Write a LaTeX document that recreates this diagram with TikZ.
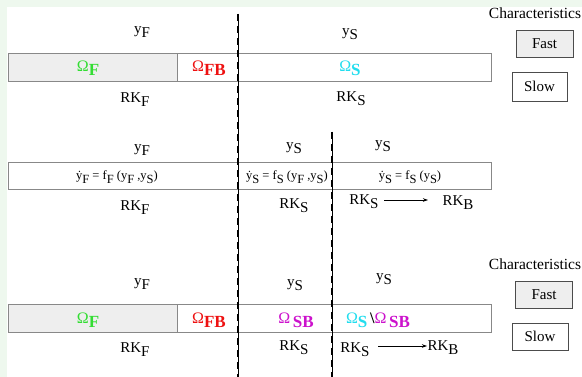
\documentclass[tikz,border=0pt]{standalone}
\usepackage{fontspec}
\setmainfont{Liberation Serif}
\usetikzlibrary{arrows.meta}
\definecolor{bggreen}{HTML}{EEF8EE}
\definecolor{omgreen}{HTML}{33DD33}
\definecolor{omred}{HTML}{EE1111}
\definecolor{omcyan}{HTML}{22DDEE}
\definecolor{ommag}{HTML}{CC11CC}
\definecolor{barfill}{HTML}{EEEEEE}
\definecolor{barline}{HTML}{888888}
\newcommand\lo[1]{\raisebox{-0.6ex}{#1}}
\newcommand\bsub[1]{\raisebox{-0.5ex}{\textbf{\fontsize{17}{19}\selectfont #1}}}
\begin{document}
\begin{tikzpicture}[x=1pt,y=-1pt,
  txt/.style={font=\fontsize{15}{17}\selectfont, inner sep=0pt},
  eqn/.style={font=\fontsize{12.5}{14}\selectfont, inner sep=0pt},
  om/.style={font=\fontsize{16}{18}\selectfont, inner sep=0pt},
  chars/.style={font=\fontsize{15.5}{17}\selectfont, inner sep=0pt},
  barbox/.style={draw=barline, line width=1pt},
  keybox/.style={draw=black!70, line width=0.8pt, inner sep=0pt, font=\fontsize{15}{17}\selectfont},
  dashthin/.style={line width=0.5pt},
  dashthick/.style={line width=2pt, dash pattern=on 7pt off 5pt},
  flow/.style={-{Stealth[length=5pt,width=3.5pt]}, line width=0.7pt}]
\useasboundingbox (0,0) rectangle (582,377);
\fill[bggreen] (0,0) rectangle (582,377);
\fill[white] (7,7) rectangle (582,377);

% ---------- row 1 ----------
\fill[barfill] (8,54) rectangle (177,82);
\draw[barbox] (8,54) rectangle (491,82);
\draw[barbox] (177,54) -- (177,82);
\node[txt] (yF1) at (142,32) {y\lo{F}};
\node[txt] (yS1) at (350,34) {y\lo{S}};
\node[om, text=omgreen] (omF1) at (88,68) {Ω\bsub{F}};
\node[om, text=omred] (omFB1) at (209,68) {Ω\bsub{FB}};
\node[om, text=omcyan] (omS1) at (350,68) {Ω\bsub{S}};
\node[txt] (rkF1) at (135,100) {RK\lo{F}};
\node[txt] (rkS1) at (351,99) {RK\lo{S}};
\node[chars] (ch1) at (535,13) {Characteristics};
\node[keybox, fill=barfill, minimum width=57pt, minimum height=27pt] (fast1) at (544.5,43.5) {Fast};
\node[keybox, fill=white, minimum width=55pt, minimum height=29pt] (slow1) at (539.5,86.5) {Slow};

% ---------- row 2 ----------
\draw[barbox] (8,163) rectangle (491,190);
\node[txt] (yF2) at (142,150) {y\lo{F}};
\node[txt] (yS2a) at (294,148) {y\lo{S}};
\node[txt] (yS2b) at (383,146) {y\lo{S}};
\node[eqn] (eq1) at (117,177) {\.y\lo{F} = f\lo{F} (y\lo{F} ,y\lo{S})};
\node[eqn] (eq2) at (287,177) {\.y\lo{S} = f\lo{S} (y\lo{F} ,y\lo{S})};
\node[eqn] (eq3) at (410,177) {\.y\lo{S} = f\lo{S} (y\lo{S})};
\node[txt] (rkF2) at (135,208) {RK\lo{F}};
\node[txt] (rkS2a) at (294,206) {RK\lo{S}};
\node[txt] (rkS2b) at (364,202) {RK\lo{S}};
\node[txt] (rkB2) at (458,203) {RK\lo{B}};
\coordinate (a2s) at (384,200);
\coordinate (a2e) at (428,200);
\draw[flow] (a2s) -- (a2e);

% ---------- row 3 ----------
\fill[barfill] (8,305) rectangle (177,333);
\draw[barbox] (8,305) rectangle (491,333);
\draw[barbox] (177,305) -- (177,333);
\node[txt] (yF3) at (142,284) {y\lo{F}};
\node[txt] (yS3a) at (295,285) {y\lo{S}};
\node[txt] (yS3b) at (384,279) {y\lo{S}};
\node[om, text=omgreen] (omF3) at (88,320) {Ω\bsub{F}};
\node[om, text=omred] (omFB3) at (209,320) {Ω\bsub{FB}};
\node[om, text=ommag] (omSB3) at (296,320) {Ω\,\bsub{SB}};
\node[om] (omSSB3) at (378,320) {\textcolor{omcyan}{Ω\bsub{S}}\,\textbf{\textbackslash}\textcolor{ommag}{Ω\,\bsub{SB}}};
\node[txt] (rkF3) at (135,350) {RK\lo{F}};
\node[txt] (rkS3a) at (294,348) {RK\lo{S}};
\node[txt] (rkS3b) at (355,350) {RK\lo{S}};
\node[txt] (rkB3) at (443,348) {RK\lo{B}};
\coordinate (a3s) at (378,346);
\coordinate (a3e) at (427,346);
\draw[flow] (a3s) -- (a3e);
\node[chars] (ch3) at (535,264) {Characteristics};
\node[keybox, fill=barfill, minimum width=57pt, minimum height=27pt] (fast3) at (544,294.5) {Fast};
\node[keybox, fill=white, minimum width=56pt, minimum height=27pt] (slow3) at (540,336.5) {Slow};

% ---------- dashed separators ----------
\coordinate (d1t) at (238,14);
\coordinate (d1b) at (238,377);
\coordinate (d2t) at (332,132);
\coordinate (d2b) at (332,377);
\draw[dashthin] (d1t) -- (d1b);
\draw[dashthick] (d1t) -- (d1b);
\draw[dashthin] (d2t) -- (d2b);
\draw[dashthick] (d2t) -- (d2b);
\end{tikzpicture}
\end{document}
